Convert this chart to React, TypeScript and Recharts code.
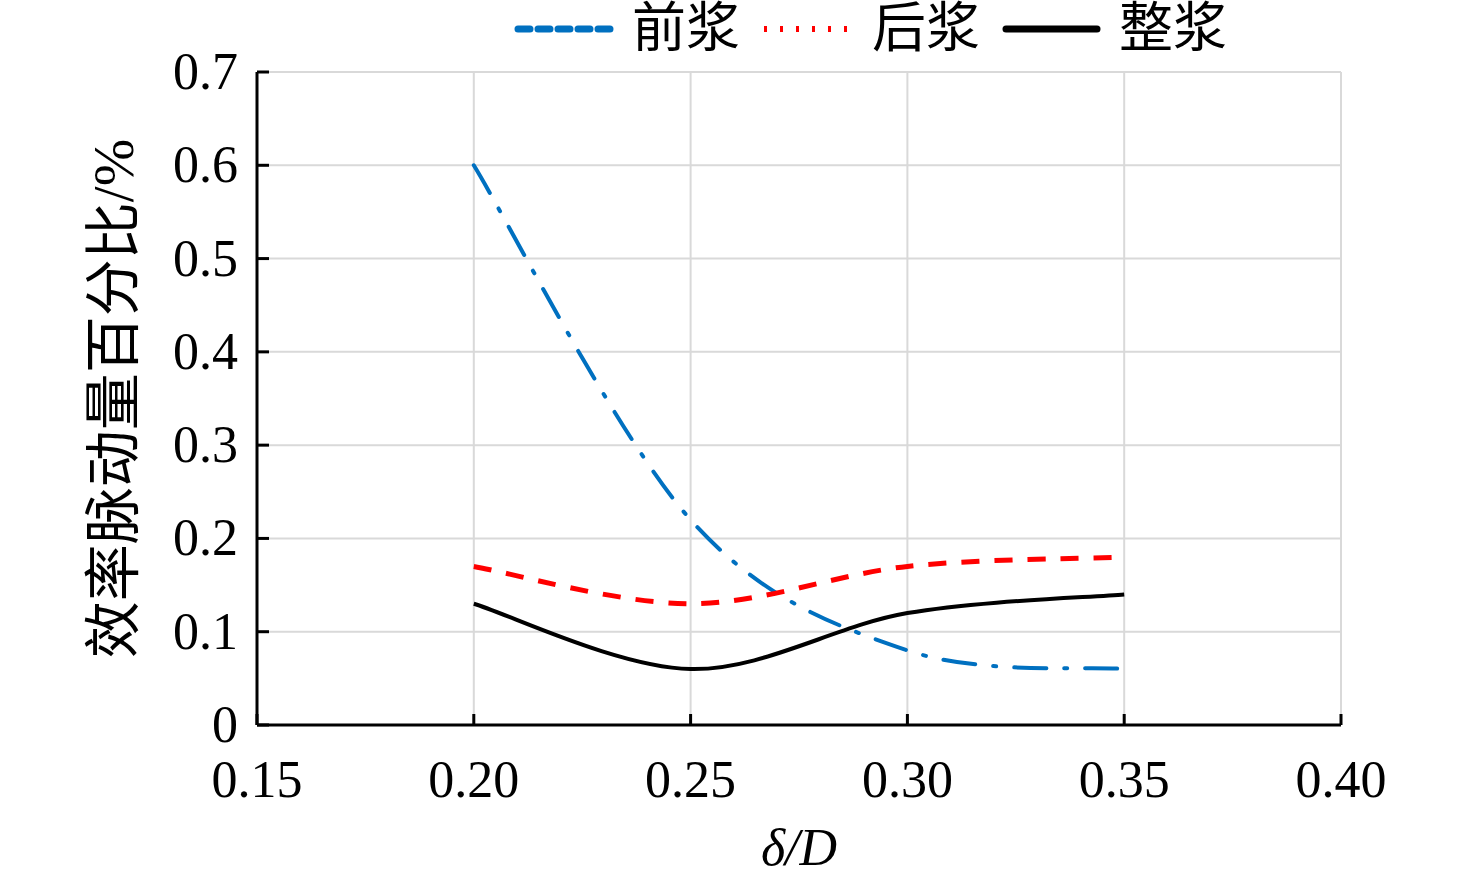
import React from "react";
import { CartesianGrid, Label, Line, LineChart, XAxis, YAxis } from "recharts";

const FONT = "'Liberation Serif', 'Times New Roman', 'Noto Sans CJK SC', serif";

const ratio = [0.2, 0.25, 0.3, 0.35];
const frontBlade = [0.6, 0.22, 0.08, 0.06];
const rearBlade = [0.17, 0.13, 0.17, 0.18];
const wholeBlade = [0.13, 0.06, 0.12, 0.14];

const xTicks = [0.15, 0.2, 0.25, 0.3, 0.35, 0.4];
const yTicks = [0, 0.1, 0.2, 0.3, 0.4, 0.5, 0.6, 0.7];

const seriesNames = { front: "前浆", rear: "后浆", whole: "整浆" };

// Excel-style smoothed line (Catmull-Rom through the points)
const smoothCurve = (context: any) => {
  let pts: [number, number][] = [];
  return {
    areaStart() {},
    areaEnd() {},
    lineStart() {
      pts = [];
    },
    point(x: number, y: number) {
      pts.push([+x, +y]);
    },
    lineEnd() {
      if (!pts.length) return;
      context.moveTo(pts[0][0], pts[0][1]);
      for (let i = 0; i < pts.length - 1; i++) {
        const p0 = pts[Math.max(i - 1, 0)];
        const p1 = pts[i];
        const p2 = pts[i + 1];
        const p3 = pts[Math.min(i + 2, pts.length - 1)];
        context.bezierCurveTo(
          p1[0] + (p2[0] - p0[0]) / 6,
          p1[1] + (p2[1] - p0[1]) / 6,
          p2[0] - (p3[0] - p1[0]) / 6,
          p2[1] - (p3[1] - p1[1]) / 6,
          p2[0],
          p2[1]
        );
      }
    },
  };
};

const XTick = (props: any) => {
  const { x, y, payload } = props;
  return (
    <g>
      <line x1={x} x2={x} y1={y} y2={y - 11} stroke="#000" strokeWidth={3} />
      <text x={x} y={y + 72} textAnchor="middle" fontSize={52} fill="#000" fontFamily={FONT}>
        {payload.value.toFixed(2)}
      </text>
    </g>
  );
};

const YTick = (props: any) => {
  const { x, y, payload } = props;
  return (
    <g>
      <line x1={x} x2={x + 12} y1={y} y2={y} stroke="#000" strokeWidth={3} />
      <text x={x - 19} y={y + 17} textAnchor="end" fontSize={52} fill="#000" fontFamily={FONT}>
        {payload.value === 0 ? "0" : payload.value.toFixed(1)}
      </text>
    </g>
  );
};

const legendItems = [
  { key: "front", sample: { stroke: "#0070c0", dash: "12 8", width: 7, cap: "round" }, x: 518, w: 92 },
  { key: "rear", sample: { stroke: "#ff0000", dash: "3 13", width: 6, cap: "butt" }, x: 764, w: 86 },
  { key: "whole", sample: { stroke: "#000", dash: undefined, width: 7, cap: "round" }, x: 1006, w: 91 },
];

const LegendBox = () => (
  <svg width={1476} height={60} style={{ position: "absolute", left: 0, top: 0 }}>
    {legendItems.map((it) => (
      <g key={it.key}>
        <line
          x1={it.x}
          x2={it.x + it.w}
          y1={29}
          y2={29}
          stroke={it.sample.stroke}
          strokeWidth={it.sample.width}
          strokeDasharray={it.sample.dash}
          strokeLinecap={it.sample.cap as any}
        />
        <text
          x={it.x + it.w + 22}
          y={29}
          dominantBaseline="central"
          fontSize={54}
          fill="#000"
          fontFamily={FONT}
        >
          {(seriesNames as any)[it.key]}
        </text>
      </g>
    ))}
  </svg>
);

export default function App() {
  const data = React.useMemo(
    () =>
      ratio.map((r, i) => ({
        r,
        front: frontBlade[i],
        rear: rearBlade[i],
        whole: wholeBlade[i],
      })),
    []
  );
  return (
    <div style={{ position: "absolute", left: 0, top: 0, width: 1476, height: 888, background: "#fff" }}>
      <LineChart
        width={1476}
        height={888}
        data={data}
        margin={{ top: 72, right: 135, bottom: 0, left: 0 }}
      >
        <CartesianGrid stroke="#d9d9d9" strokeWidth={2} />
        <XAxis
          dataKey="r"
          type="number"
          domain={[0.15, 0.4]}
          ticks={xTicks}
          height={163}
          tickSize={0}
          tickMargin={0}
          tickLine={false}
          tick={<XTick />}
          axisLine={{ stroke: "#000", strokeWidth: 3 }}
          interval={0}
        >
          <Label
            content={({ viewBox }: any) => (
              <text
                x={viewBox.x + viewBox.width / 2}
                y={viewBox.y + 140}
                textAnchor="middle"
                fontSize={52}
                fontStyle="italic"
                fill="#000"
                fontFamily={FONT}
              >
                δ/D
              </text>
            )}
          />
        </XAxis>
        <YAxis
          type="number"
          domain={[0, 0.7]}
          ticks={yTicks}
          width={257}
          tickSize={0}
          tickMargin={0}
          tickLine={false}
          tick={<YTick />}
          axisLine={{ stroke: "#000", strokeWidth: 3 }}
          interval={0}
        >
          <Label
            content={({ viewBox }: any) => {
              const cx = 113;
              const cy = viewBox.y + viewBox.height / 2;
              return (
                <text
                  x={cx}
                  y={cy}
                  transform={`rotate(-90 ${cx} ${cy})`}
                  textAnchor="middle"
                  dominantBaseline="central"
                  fontSize={57}
                  fill="#000"
                  fontFamily={FONT}
                >
                  效率脉动量百分比/%
                </text>
              );
            }}
          />
        </YAxis>
        <Line
          type={smoothCurve as any}
          dataKey="front"
          name={seriesNames.front}
          stroke="#0070c0"
          strokeWidth={4}
          strokeDasharray="32 18 3 18"
          strokeLinecap="round"
          dot={false}
          isAnimationActive={false}
        />
        <Line
          type={smoothCurve as any}
          dataKey="rear"
          name={seriesNames.rear}
          stroke="#ff0000"
          strokeWidth={5}
          strokeDasharray="18 15"
          dot={false}
          isAnimationActive={false}
        />
        <Line
          type={smoothCurve as any}
          dataKey="whole"
          name={seriesNames.whole}
          stroke="#000"
          strokeWidth={4}
          dot={false}
          isAnimationActive={false}
        />
      </LineChart>
      <LegendBox />
    </div>
  );
}
